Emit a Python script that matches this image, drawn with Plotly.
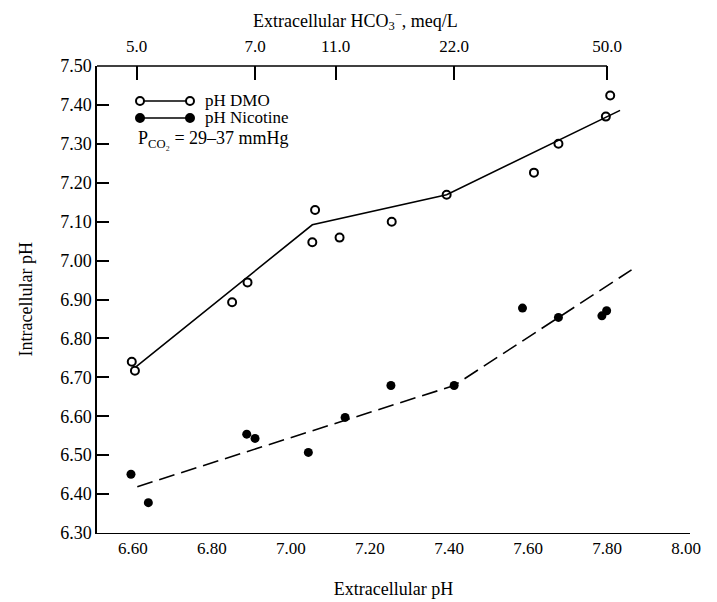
import plotly.graph_objects as go

# --- data ---
dmo_x = [6.597, 6.605, 6.851, 6.890, 7.054, 7.061, 7.123, 7.255, 7.394, 7.615, 7.677, 7.797, 7.808]
dmo_y = [6.740, 6.717, 6.893, 6.944, 7.047, 7.130, 7.059, 7.100, 7.169, 7.226, 7.300, 7.370, 7.424]
nic_x = [6.595, 6.639, 6.888, 6.909, 7.044, 7.137, 7.253, 7.413, 7.586, 7.677, 7.787, 7.799]
nic_y = [6.451, 6.378, 6.554, 6.543, 6.507, 6.597, 6.679, 6.679, 6.878, 6.854, 6.858, 6.871]
dmo_fit_x = [6.609, 7.054, 7.394, 7.833]
dmo_fit_y = [6.728, 7.092, 7.169, 7.386]
nic_fit_x = [6.611, 7.413, 7.862]
nic_fit_y = [6.419, 6.679, 6.976]
bottom_ticks = [6.60, 6.80, 7.00, 7.20, 7.40, 7.60, 7.80, 8.00]
left_ticks = [6.30, 6.40, 6.50, 6.60, 6.70, 6.80, 6.90, 7.00, 7.10, 7.20, 7.30, 7.40, 7.50]
hco3_pos = [6.609, 6.909, 7.113, 7.413, 7.800]
hco3_labels = ["5.0", "7.0", "11.0", "22.0", "50.0"]

X_MIN, X_MAX = 6.509, 8.010
Y_MIN, Y_MAX = 6.30, 7.50
FONT = "Liberation Serif"

fig = go.Figure()
fig.add_trace(go.Scatter(x=dmo_fit_x, y=dmo_fit_y, mode="lines",
                         line=dict(color="black", width=1.6), showlegend=False))
fig.add_trace(go.Scatter(x=nic_fit_x, y=nic_fit_y, mode="lines",
                         line=dict(color="black", width=1.6, dash="16px,7px"), showlegend=False))
fig.add_trace(go.Scatter(x=dmo_x, y=dmo_y, mode="markers",
                         marker=dict(symbol="circle-open", size=8, color="black", line=dict(width=2)),
                         showlegend=False))
fig.add_trace(go.Scatter(x=nic_x, y=nic_y, mode="markers",
                         marker=dict(symbol="circle", size=9, color="black"), showlegend=False))
# invisible trace to activate top axis
fig.add_trace(go.Scatter(x=[X_MIN], y=[Y_MIN], xaxis="x2", mode="markers",
                         marker=dict(opacity=0), showlegend=False, hoverinfo="skip"))

# page has an 8px body margin: figure is offset by (8, 8)
fig.update_layout(
    width=709, height=594,
    margin=dict(l=89, r=27, t=58, b=69, autoexpand=False),
    paper_bgcolor="white", plot_bgcolor="white",
    font=dict(family=FONT, color="black", size=17),
    xaxis=dict(range=[X_MIN, X_MAX], tickvals=bottom_ticks,
               ticktext=[f"{v:.2f}" for v in bottom_ticks],
               showgrid=False, zeroline=False, showline=True, linecolor="black", linewidth=1,
               ticks="", tickfont=dict(size=17), automargin=False,
               title=dict(text="Extracellular pH", font=dict(size=18), standoff=24)),
    xaxis2=dict(range=[X_MIN, X_MAX], overlaying="x", side="top", tickvals=hco3_pos,
                ticktext=hco3_labels, ticks="inside", ticklen=14, tickwidth=1.5,
                tickcolor="black", showgrid=False, zeroline=False, showline=False,
                tickfont=dict(size=17), ticklabelstandoff=10, automargin=False),
    yaxis=dict(range=[Y_MIN, Y_MAX], tickvals=left_ticks,
               ticktext=[f"{v:.2f}" for v in left_ticks],
               showgrid=False, zeroline=False, showline=True, linecolor="black", linewidth=1.5,
               ticks="inside", ticklen=12, tickwidth=1.5, tickcolor="black",
               tickfont=dict(size=18), automargin=False),
)

# top axis line (ends at 50.0 tick)
fig.add_shape(type="line", xref="x", yref="paper", x0=X_MIN, x1=hco3_pos[-1], y0=1, y1=1,
              line=dict(color="black", width=1.5))

# titles
fig.add_annotation(text="Extracellular HCO<sub>3</sub><sup>−</sup>, meq/L", xref="paper", yref="paper",
                   x=(355 - 97) / 593, y=1, yshift=46, yanchor="middle", showarrow=False,
                   font=dict(size=18))
fig.add_annotation(text="Intracellular pH", xref="paper", yref="paper", x=(25 - 97) / 593, y=0.5,
                   xanchor="center", yanchor="middle", textangle=-90, showarrow=False,
                   font=dict(size=18))

# custom legend
def px_x(px):
    return (px - 97) / 593

def px_y(py):
    return (533 - py) / 467

for row_y, filled in [(101, False), (118, True)]:
    fig.add_shape(type="line", xref="paper", yref="paper", x0=px_x(140), x1=px_x(190),
                  y0=px_y(row_y), y1=px_y(row_y), line=dict(color="black", width=1.6))
    for cx in (140, 190):
        fig.add_shape(type="circle", xref="paper", yref="paper", xsizemode="pixel", ysizemode="pixel",
                      xanchor=px_x(cx), yanchor=px_y(row_y), x0=-4, x1=4, y0=-4, y1=4,
                      fillcolor="black" if filled else "white", line=dict(color="black", width=2))

fig.add_annotation(text="pH DMO", xref="paper", yref="paper", x=px_x(203), y=px_y(100),
                   xanchor="left", yanchor="middle", showarrow=False, font=dict(size=17))
fig.add_annotation(text="pH Nicotine", xref="paper", yref="paper", x=px_x(203), y=px_y(118),
                   xanchor="left", yanchor="middle", showarrow=False, font=dict(size=17))
fig.add_annotation(text="P<sub>CO₂</sub> = 29–37 mmHg", xref="paper", yref="paper", x=px_x(136),
                   y=px_y(139), xanchor="left", yanchor="middle", showarrow=False,
                   font=dict(size=18))

fig.write_html("out.html")
